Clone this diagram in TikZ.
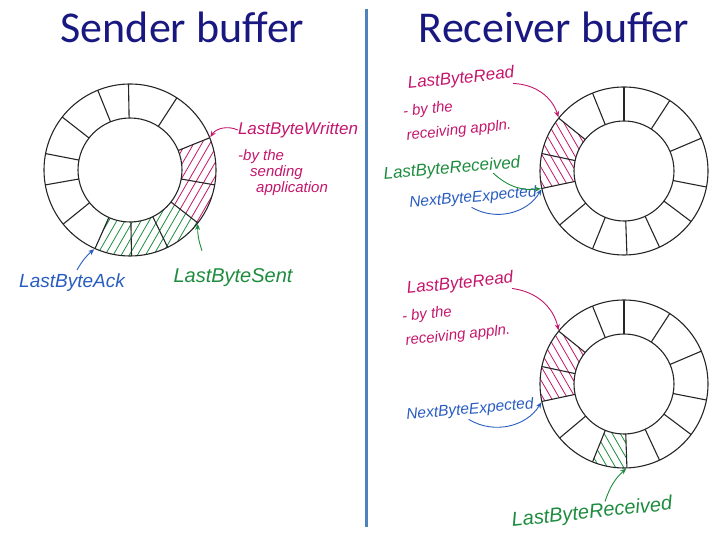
\documentclass[tikz,border=0pt]{standalone}
\usepackage{fontspec}
\setmainfont{Carlito}
\newfontfamily\hand{Liberation Sans}
\usetikzlibrary{arrows.meta}
\definecolor{titleblue}{RGB}{24,24,128}
\definecolor{divblue}{RGB}{79,129,189}
\definecolor{penred}{RGB}{196,22,108}
\definecolor{pengreen}{RGB}{30,140,62}
\definecolor{penblue}{RGB}{40,92,192}
\tikzset{
  title/.style={font=\fontsize{44}{48}\selectfont, text=titleblue, inner sep=0pt},
  note/.style={font=\hand\itshape\fontsize{17}{19}\selectfont, inner sep=0pt},
  subnote/.style={font=\hand\itshape\fontsize{15}{18}\selectfont, inner sep=0pt, align=left},
  ring/.style={draw=black!85, line width=1.1pt},
  pointer/.style={-{Stealth[length=6pt,width=5pt]}, line width=0.9pt, shorten >=1pt},
}
% one hatched cell of a ring: from angle, to angle, colour, hatch angle
\newcommand\hatchcell[4]{%
  \begin{scope}
    \clip (#1:\ri) arc[start angle=#1, end angle=#2, radius=\ri]
      -- (#2:\ro) arc[start angle=#2, end angle=#1, radius=\ro] -- cycle;
    \foreach \k in {-91,-84,...,91}
      \draw[#3, line width=0.8pt, rotate=#4] (-100,\k) -- (100,\k);
  \end{scope}}
\begin{document}
\begin{tikzpicture}[x=1pt, y=1pt]
  \useasboundingbox (0,0) rectangle (720,540);
  \node[title, anchor=base] (sndtitle) at (182.5,497) {Sender buffer};
  \node[title, anchor=base] (rcvtitle) at (554,497) {Receiver buffer};
  \draw[divblue, line width=3pt] (366,531) -- (366,12.5);
  % sender ring
  \begin{scope}[shift={(130,370)}]
    \def\ro{86}\def\ri{52}
    \hatchcell{322}{382}{penred}{60}
    \hatchcell{246}{322}{pengreen}{60}
    \draw[ring] (0,0) circle[radius=\ro] (0,0) circle[radius=\ri];
    \foreach \a in {22,57,91,112,142,169,190,219,246,271,296,322,350}
      \draw[ring] (\a:\ri) -- (\a:\ro);
    \coordinate (s-written) at (22:\ro);
    \coordinate (s-sent) at (322:\ro);
    \coordinate (s-ack) at (246:\ro);
  \end{scope}
  \node[note, text=penred] (s-lbw) at (298,410) {LastByteWritten};
  \node[subnote, text=penred, anchor=north west] (s-by) at (238,391)
    {-by the\\[-2pt]\hspace*{12pt}sending\\[-2pt]\hspace*{18pt}application};
  \node[note, text=pengreen, font=\hand\itshape\fontsize{20}{22}\selectfont] (s-lbs) at (233,262) {LastByteSent};
  \node[note, text=penblue, font=\hand\itshape\fontsize{19}{21}\selectfont] (s-lba) at (72,257) {LastByteAck};
  \draw[pointer, penred] (s-lbw.west) to[bend right=40] (s-written);
  \draw[pointer, pengreen] ([xshift=-31pt,yshift=18pt]s-lbs.north) to[bend left=10] (s-sent);
  \draw[pointer, penblue] ([xshift=5pt,yshift=4pt]s-lba.north) to[bend left=10] (s-ack);
  % receiver ring, top
  \begin{scope}[shift={(624,369)}]
    \def\ro{84}\def\ri{50}
    \hatchcell{141}{192}{penred}{-60}
    \draw[ring] (0,0) circle[radius=\ro] (0,0) circle[radius=\ri];
    \foreach \a in {23,57,90,112,141,168,192,220,248,272,295,323,349}
      \draw[ring] (\a:\ri) -- (\a:\ro);
    \coordinate (r1-read) at (141:\ro);
    \coordinate (r1-next) at (192:\ro);
  \end{scope}
  \node[note, text=penred, rotate=6] (r1-lbr) at (461,461) {LastByteRead};
  \node[subnote, text=penred, rotate=6] (r1-by) at (428,430) {- by the};
  \node[subnote, text=penred, rotate=6] (r1-appl) at (459,409) {receiving appln.};
  \node[note, text=pengreen, rotate=5] (r1-lbrc) at (452,371) {LastByteReceived};
  \node[note, text=penblue, rotate=5, font=\hand\itshape\fontsize{15.5}{17}\selectfont] (r1-nbe) at (473,342) {NextByteExpected};
  \draw[pointer, penred] ([xshift=-2pt,yshift=-2pt]r1-lbr.south east) to[bend left=35] (r1-read);
  \draw[pointer, pengreen] ([xshift=-28pt,yshift=-2pt]r1-lbrc.south east) to[bend right=25] (r1-next);
  \draw[pointer, penblue] ([xshift=-2pt,yshift=-2pt]r1-nbe.south) to[bend right=45] (r1-next);
  % receiver ring, bottom
  \begin{scope}[shift={(624,156)}]
    \def\ro{84}\def\ri{50}
    \hatchcell{141}{192}{penred}{-60}
    \hatchcell{248}{272}{pengreen}{-60}
    \draw[ring] (0,0) circle[radius=\ro] (0,0) circle[radius=\ri];
    \foreach \a in {23,57,90,112,141,168,192,220,248,272,295,323,349}
      \draw[ring] (\a:\ri) -- (\a:\ro);
    \coordinate (r2-read) at (141:\ro);
    \coordinate (r2-next) at (192:\ro);
    \coordinate (r2-recv) at (272:\ro);
  \end{scope}
  \node[note, text=penred, rotate=6] (r2-lbr) at (460,256) {LastByteRead};
  \node[subnote, text=penred, rotate=6] (r2-by) at (427,225) {- by the};
  \node[subnote, text=penred, rotate=6] (r2-appl) at (458,204) {receiving appln.};
  \node[note, text=penblue, rotate=5, font=\hand\itshape\fontsize{15.5}{17}\selectfont] (r2-nbe) at (470,130) {NextByteExpected};
  \node[note, text=pengreen, rotate=6, font=\hand\itshape\fontsize{20}{22}\selectfont] (r2-lbrc) at (592,27) {LastByteReceived};
  \draw[pointer, penred] ([xshift=-2pt,yshift=-2pt]r2-lbr.south east) to[bend left=35] (r2-read);
  \draw[pointer, penblue] ([xshift=-2pt,yshift=-2pt]r2-nbe.south) to[bend right=45] (r2-next);
  \draw[pointer, pengreen] ([xshift=14pt,yshift=2pt]r2-lbrc.north) to[bend left=15] (r2-recv);
\end{tikzpicture}
\end{document}
